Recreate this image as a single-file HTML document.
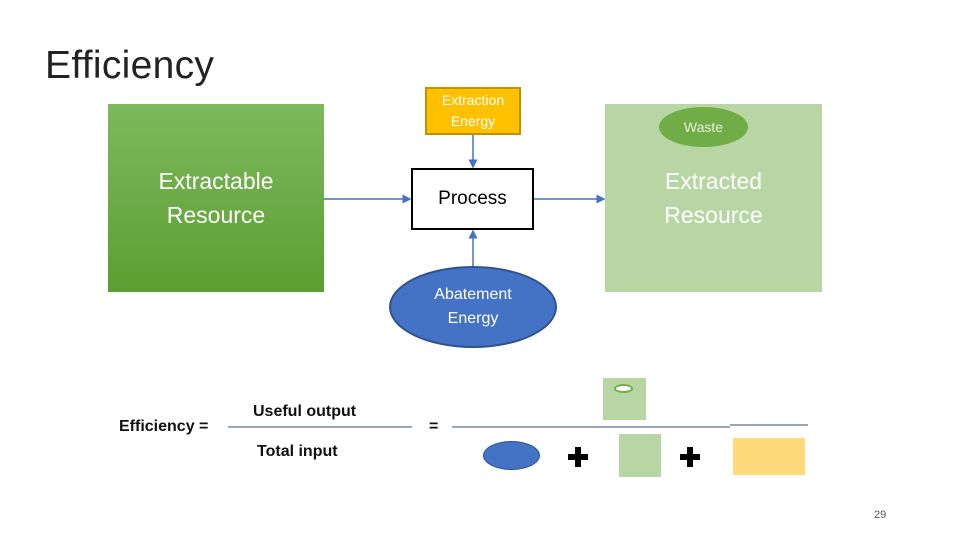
<!DOCTYPE html>
<html><head><style>
body{margin:0;width:960px;height:540px;background:#fff;position:relative;overflow:hidden;font-family:"Liberation Sans",sans-serif}
div{position:absolute;box-sizing:border-box}
.c{display:flex;align-items:center;justify-content:center;text-align:center}
</style></head><body>
<div style="left:45px;top:44px;font-size:39px;color:#222;letter-spacing:0.3px">Efficiency</div>
<div class="c" style="left:108px;top:104px;width:216px;height:188px;background:linear-gradient(#7db95d,#5c9e31);color:#fff;font-size:23px;line-height:34px">Extractable<br>Resource</div>
<div class="c" style="left:605px;top:104px;width:217px;height:188px;background:#b8d6a4;color:#fff;font-size:23px;line-height:34px">Extracted<br>Resource</div>
<div class="c" style="left:659px;top:107px;width:89px;height:40px;border-radius:50%;background:#70ad47;color:#e8f0e0;font-size:14px">Waste</div>
<div class="c" style="left:425px;top:87px;width:96px;height:48px;background:#ffc000;border:2px solid #c49000;color:#fff;font-size:14px;line-height:21px">Extraction<br>Energy</div>
<div class="c" style="left:411px;top:168px;width:123px;height:62px;border:2px solid #000;font-size:19px">Process</div>
<div class="c" style="left:389px;top:266px;width:168px;height:82px;border-radius:50%;background:#4472c4;border:2px solid #2f528f;color:#fff;font-size:16px;line-height:24px">Abatement<br>Energy</div>
<div style="left:603px;top:378px;width:43px;height:42px;background:#b8d6a4"></div>
<div style="left:614px;top:384px;width:19px;height:9px;border-radius:50%;background:#fff;border:2px solid #70ad47"></div>
<div style="left:483px;top:441px;width:57px;height:29px;border-radius:50%;background:#4472c4;border:1px solid #2f528f"></div>
<div style="left:619px;top:434px;width:42px;height:43px;background:#b8d6a4"></div>
<div style="left:733px;top:438px;width:72px;height:37px;background:#ffd97a"></div>
<svg style="position:absolute;left:0;top:0" width="960" height="540">
<defs><marker id="a" markerWidth="6" markerHeight="6" refX="5" refY="3" orient="auto"><path d="M0,0L6,3L0,6z" fill="#4472c4"/></marker></defs>
<g stroke="#4472c4" stroke-width="1.5" marker-end="url(#a)">
<line x1="324" y1="199" x2="410" y2="199"/>
<line x1="534" y1="199" x2="604" y2="199"/>
<line x1="473" y1="135" x2="473" y2="167"/>
<line x1="473" y1="266" x2="473" y2="231"/>
</g>
<g stroke="#5a7090" stroke-width="1.2">
<line x1="228" y1="427" x2="412" y2="427"/>
<line x1="452" y1="427" x2="730" y2="427"/>
<line x1="730" y1="425" x2="808" y2="425"/>
</g>
<g fill="#000"><rect x="575" y="447" width="6" height="20"/><rect x="568" y="454" width="20" height="6"/>
<rect x="687" y="447" width="6" height="20"/><rect x="680" y="454" width="20" height="6"/></g>
</svg>
<div style="left:119px;top:418px;font-size:16px;color:#111;font-weight:bold">Efficiency =</div>
<div style="left:253px;top:403px;font-size:16px;color:#111;font-weight:bold">Useful output</div>
<div style="left:257px;top:443px;font-size:16px;color:#111;font-weight:bold">Total input</div>
<div style="left:429px;top:418px;font-size:16px;color:#111;font-weight:bold">=</div>
<div style="left:874px;top:509px;font-size:11px;color:#555">29</div>
</body></html>
